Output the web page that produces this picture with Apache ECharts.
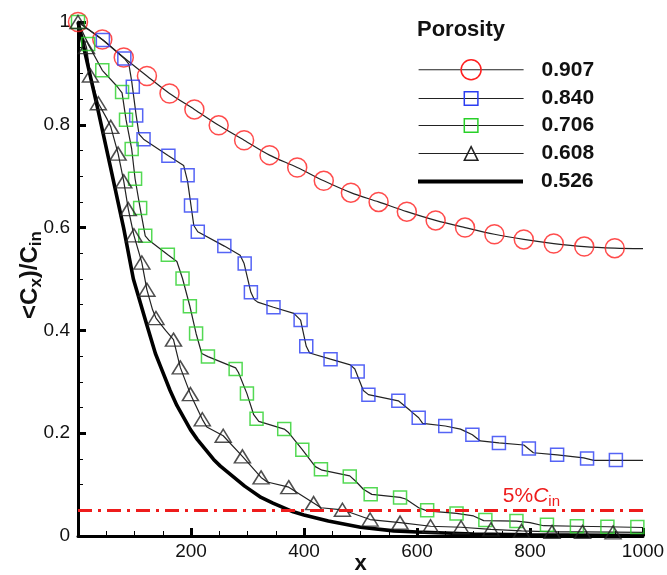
<!DOCTYPE html>
<html>
<head>
<meta charset="utf-8">
<script src="https://cdn.jsdelivr.net/npm/echarts@6/dist/echarts.min.js"></script>
<style>
html, body { margin: 0; padding: 0; background: #fff; }
#main { width: 667px; height: 575px; }
</style>
</head>
<body>
<div id="main"></div>
<script>
var FONT = "'Liberation Sans', Arial, sans-serif";

// porosity values, one curve each
var porosity = ['0.907', '0.840', '0.706', '0.608', '0.526'];
var cutoff = 0.05;

// marker points [x, <Cx>/Cin]
var p907Marks = [[0,1.0],[43,0.966],[81,0.931],[122,0.895],[162,0.861],[206,0.830],[249,0.799],[294,0.770],[339,0.741],[388,0.717],[435,0.691],[483,0.668],[532,0.650],[582,0.631],[633,0.614],[685,0.600],[737,0.587],[789,0.577],[842,0.569],[896,0.563],[950,0.560]];
var p840Marks = [[44,0.965],[82,0.929],[97,0.874],[103,0.818],[116,0.772],[160,0.740],[194,0.702],[200,0.643],[212,0.592],[259,0.564],[295,0.530],[306,0.474],[346,0.445],[394,0.420],[404,0.369],[447,0.344],[495,0.320],[514,0.275],[567,0.263],[603,0.230],[650,0.214],[698,0.197],[745,0.181],[798,0.170],[848,0.158],[901,0.151],[952,0.148]];
var p706Marks = [[0,1.0],[18,0.957],[43,0.906],[78,0.864],[85,0.810],[95,0.753],[101,0.695],[110,0.638],[119,0.584],[159,0.547],[185,0.501],[198,0.447],[209,0.394],[230,0.349],[279,0.325],[299,0.277],[316,0.228],[365,0.208],[397,0.168],[430,0.130],[481,0.116],[518,0.081],[570,0.075],[618,0.050],[670,0.044],[721,0.031],[776,0.029],[830,0.022],[883,0.019],[937,0.018],[990,0.0175]];
var p608Marks = [[0,1.0],[15,0.951],[22,0.896],[36,0.842],[58,0.796],[71,0.744],[81,0.690],[89,0.636],[99,0.585],[113,0.532],[122,0.479],[138,0.424],[169,0.382],[181,0.328],[199,0.276],[220,0.227],[257,0.195],[291,0.155],[324,0.114],[373,0.095],[417,0.064],[468,0.051],[517,0.032],[570,0.026],[624,0.019],[678,0.017],[731,0.013],[785,0.010],[839,0.008],[893,0.008],[947,0.007]];

// solid curves (denser, with the steps)
var p907Line = p907Marks.concat([[1000,0.559]]);
var p840Line = [[0,1.0],[44,0.965],[82,0.929],[90,0.918],[95,0.885],[103,0.818],[108,0.782],[116,0.772],[160,0.740],[187,0.721],[194,0.690],[200,0.643],[205,0.604],[212,0.592],[259,0.564],[287,0.546],[294,0.530],[306,0.474],[312,0.460],[318,0.455],[346,0.445],[382,0.433],[394,0.420],[404,0.369],[410,0.356],[447,0.344],[482,0.333],[490,0.325],[505,0.283],[514,0.275],[567,0.263],[588,0.244],[603,0.230],[610,0.219],[650,0.214],[677,0.208],[698,0.197],[712,0.185],[745,0.181],[789,0.177],[806,0.162],[848,0.158],[895,0.152],[913,0.147],[952,0.147],[1000,0.147]];
var p706Line = [[0,1.0],[18,0.957],[43,0.906],[69,0.875],[78,0.862],[85,0.810],[95,0.753],[101,0.695],[110,0.638],[119,0.584],[125,0.576],[159,0.547],[175,0.534],[185,0.501],[198,0.447],[209,0.394],[219,0.355],[230,0.349],[279,0.327],[284,0.318],[299,0.277],[311,0.236],[320,0.223],[365,0.208],[372,0.202],[397,0.168],[420,0.135],[432,0.128],[481,0.117],[492,0.106],[505,0.091],[520,0.081],[570,0.075],[580,0.072],[603,0.055],[618,0.049],[670,0.044],[700,0.039],[718,0.030],[776,0.029],[800,0.026],[824,0.020],[883,0.019],[937,0.018],[1000,0.0165]];
var p608Line = [[0,1.0],[15,0.951],[22,0.896],[36,0.842],[52,0.810],[58,0.796],[71,0.744],[81,0.690],[89,0.636],[99,0.585],[113,0.532],[122,0.479],[132,0.440],[138,0.424],[155,0.400],[169,0.382],[181,0.328],[199,0.276],[220,0.227],[228,0.212],[257,0.195],[291,0.155],[324,0.114],[335,0.105],[373,0.095],[417,0.064],[430,0.055],[468,0.051],[517,0.032],[570,0.026],[624,0.019],[678,0.017],[731,0.013],[785,0.010],[839,0.008],[893,0.008],[1000,0.007]];
var p526Line = [[0,1.0],[34,0.836],[57,0.720],[81,0.598],[98,0.500],[122,0.410],[137,0.355],[146,0.330],[163,0.283],[175,0.254],[199,0.207],[211,0.188],[240,0.149],[252,0.136],[295,0.097],[324,0.075],[345,0.064],[381,0.047],[400,0.041],[443,0.029],[500,0.017],[559,0.010],[600,0.0078],[700,0.004],[800,0.0025],[1000,0.001]];

var markData = [p907Marks, p840Marks, p706Marks, p608Marks, null];
var lineData = [p907Line, p840Line, p706Line, p608Line, p526Line];

var symbols = ['circle', 'rect', 'rect', 'triangle', 'none'];
var symSizes = [19, 13, 13, [16, 13], 0];
var colors = ['#ff1f1f', '#2b3df2', '#28d028', '#222', '#000'];
var legendTops = [59, 88, 115, 143, 171];
var legendHeights = [25, 17, 17, 17, 4];

var myChart = echarts.init(document.getElementById('main'));

var series = [];
var legends = [];
porosity.forEach(function (name, i) {
	var thick = i === 4;
	series.push({
		name: name,
		type: 'line',
		data: lineData[i],
		smooth: i === 0 ? 0.3 : false,
		showSymbol: false,
		symbol: thick ? 'circle' : symbols[i],
		symbolSize: symSizes[i],
		clip: false,
		z: 2,
		itemStyle: thick ? { color: '#000' } : { color: 'rgba(0,0,0,0)', borderColor: colors[i], borderWidth: 1.5 },
		lineStyle: { color: thick ? '#000' : '#222', width: thick ? 3.6 : 1.2 },
		markLine: thick ? {
			silent: true,
			symbol: 'none',
			data: [{ yAxis: cutoff }],
			lineStyle: { color: '#ee1c1c', width: 3, type: [14, 6, 3, 6] },
			label: {
				position: 'insideEndTop',
				distance: [83, 1],
				formatter: '5%{c|C}{s|in}',
				color: '#ee1c1c',
				fontFamily: FONT,
				fontSize: 21,
				rich: {
					c: { fontStyle: 'italic', fontSize: 21, color: '#ee1c1c', fontFamily: FONT },
					s: { fontSize: 15, color: '#ee1c1c', fontFamily: FONT, padding: [12, 0, 0, 0] }
				}
			}
		} : undefined
	});
	if (markData[i]) {
		series.push({
			name: name,
			type: 'scatter',
			data: markData[i],
			symbol: symbols[i],
			symbolSize: symSizes[i],
			clip: false,
			z: 3,
			itemStyle: { color: 'rgba(0,0,0,0)', borderColor: colors[i], borderWidth: 1.5 }
		});
	}
	legends.push({
		data: [thick ? { name: name, icon: 'rect' } : name],
		left: 418,
		top: legendTops[i],
		padding: 0,
		orient: 'vertical',
		selectedMode: false,
		itemWidth: 105,
		itemHeight: legendHeights[i],
		lineStyle: { width: 1.2, color: '#222' },
		itemStyle: thick ? { color: '#000', borderWidth: 0 } : { borderWidth: 1.5 },
		textStyle: { fontFamily: FONT, fontSize: 21, fontWeight: 'bold', color: '#111', padding: [0, 0, 0, 13] }
	});
});

var option = {
	animation: false,
	backgroundColor: '#fff',
	title: {
		text: 'Porosity',
		left: 417,
		top: 19,
		padding: 0,
		textStyle: { fontFamily: FONT, fontSize: 22, fontWeight: 'bold', color: '#111' }
	},
	legend: legends,
	grid: { left: 78, right: 24, top: 22, bottom: 39, outerBoundsMode: 'none' },
	xAxis: {
		type: 'value',
		min: 0,
		max: 1000,
		interval: 200,
		name: 'x',
		nameLocation: 'middle',
		nameMoveOverlap: false,
		nameGap: 17,
		nameTextStyle: { fontFamily: FONT, fontSize: 22, fontWeight: 'bold', color: '#111' },
		axisLine: { lineStyle: { color: '#000', width: 3 } },
		axisTick: { inside: true, length: 8, lineStyle: { color: '#000', width: 3 } },
		minorTick: { show: true, splitNumber: 4, length: 5, lineStyle: { color: '#000', width: 1 } },
		splitLine: { show: false },
		axisLabel: {
			margin: 6,
			fontFamily: FONT, fontSize: 19, color: '#111',
			formatter: function (v) { return v === 0 ? '' : String(v); }
		}
	},
	yAxis: {
		type: 'value',
		min: 0,
		max: 1,
		interval: 0.2,
		name: '<C{s|x})/C{s|in}',
		nameLocation: 'middle',
		nameRotate: 90,
		nameMoveOverlap: false,
		nameGap: 33,
		nameTextStyle: {
			fontFamily: FONT, fontSize: 24, fontWeight: 'bold', color: '#111',
			padding: [0, 0, 0, 8],
			rich: { s: { fontFamily: FONT, fontSize: 17, fontWeight: 'bold', color: '#111', padding: [12, 0, 0, 0] } }
		},
		axisLine: { lineStyle: { color: '#000', width: 3 } },
		axisTick: { inside: true, length: 8, lineStyle: { color: '#000', width: 3 } },
		minorTick: { show: true, splitNumber: 4, length: 5, lineStyle: { color: '#000', width: 1 } },
		splitLine: { show: false },
		axisLabel: { margin: 8, fontFamily: FONT, fontSize: 19, color: '#111' }
	},
	series: series
};

myChart.setOption(option);
</script>
</body>
</html>
